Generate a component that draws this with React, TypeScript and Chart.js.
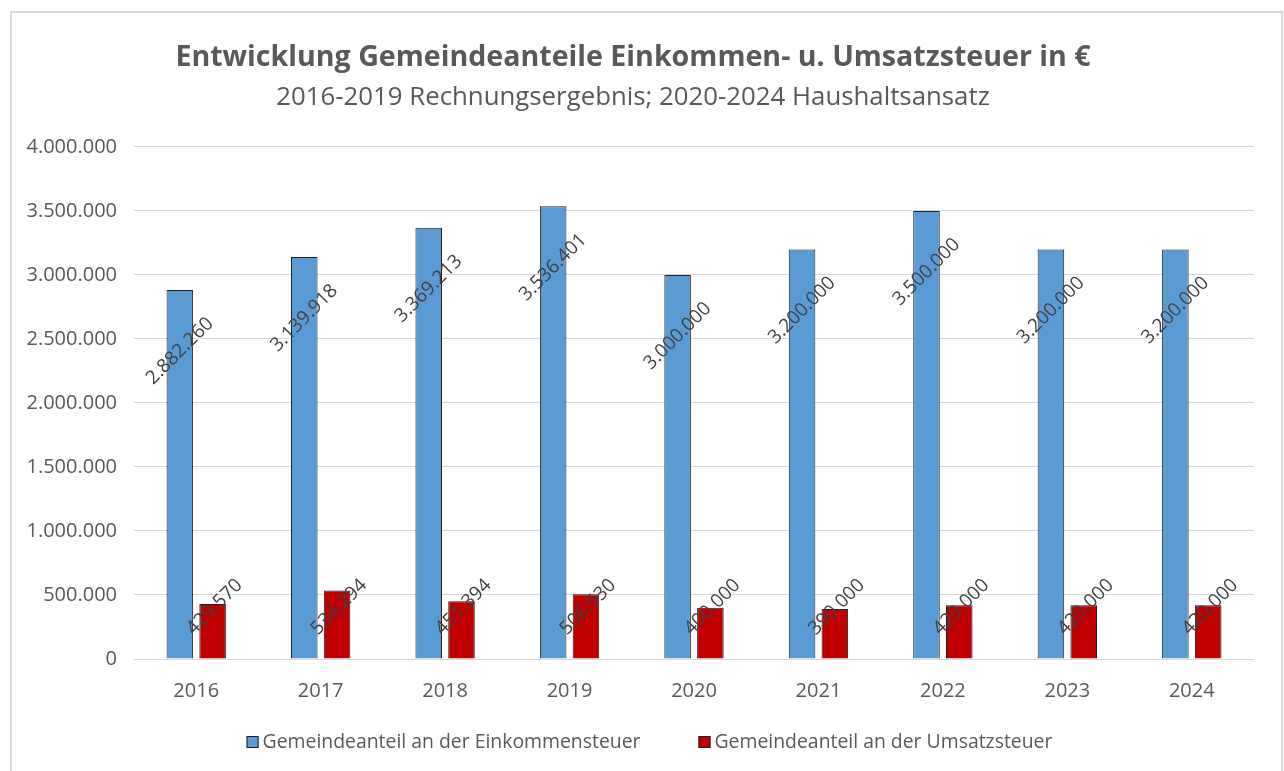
import React, { useEffect, useRef } from 'react';
import { Chart, registerables } from 'chart.js';

Chart.register(...registerables);

const categories = ['2016', '2017', '2018', '2019', '2020', '2021', '2022', '2023', '2024'];
const einkommensteuer = [2882260, 3139918, 3369213, 3536401, 3000000, 3200000, 3500000, 3200000, 3200000];
const umsatzsteuer = [429570, 534294, 451394, 506530, 400000, 390000, 420000, 420000, 420000];
const seriesLabels = ['Gemeindeanteil an der Einkommensteuer', 'Gemeindeanteil an der Umsatzsteuer'];
const seriesColors = ['#5b9bd5', '#c00000'];
const yMin = 0;
const yMax = 4000000;
const yStep = 500000;
const titleText = 'Entwicklung Gemeindeanteile Einkommen- u. Umsatzsteuer in €';
const subtitleText = '2016-2019 Rechnungsergebnis; 2020-2024 Haushaltsansatz';

const FONT = "'Open Sans', sans-serif";
const TEXT_COLOR = '#595959';

function fmt(n: number): string {
  return String(Math.round(n)).replace(/\B(?=(\d{3})+(?!\d))/g, '.');
}

const dataLabelPlugin = {
  id: 'rotatedDataLabels',
  afterDatasetsDraw(chart: any) {
    const ctx = chart.ctx;
    const base = chart.scales.y.getPixelForValue(0);
    chart.data.datasets.forEach((ds: any, di: number) => {
      const meta = chart.getDatasetMeta(di);
      meta.data.forEach((el: any, i: number) => {
        const v = ds.data[i] as number;
        const cx = el.x + (di === 1 ? 2 : 0);
        const cy = di === 0 ? el.y + 61 : base - 52;
        ctx.save();
        ctx.translate(cx, cy);
        ctx.rotate(-Math.PI / 4);
        ctx.font = `19px ${FONT}`;
        ctx.fillStyle = '#404040';
        ctx.textAlign = 'center';
        ctx.textBaseline = 'middle';
        ctx.fillText(fmt(v), 0, 0);
        ctx.restore();
      });
    });
  },
};

const customLegendPlugin = {
  id: 'customLegend',
  afterDraw(chart: any) {
    const ctx = chart.ctx;
    ctx.save();
    ctx.font = `19.4px ${FONT}`;
    const box = 12;
    const boxGap = 4;
    const itemGap = 58;
    const items = chart.data.datasets.map((ds: any) => ({
      label: ds.label,
      color: ds.backgroundColor,
      w: ctx.measureText(ds.label).width,
    }));
    let total = 0;
    items.forEach((it: any, idx: number) => {
      total += box + boxGap + it.w + (idx < items.length - 1 ? itemGap : 0);
    });
    let x = chart.width / 2 + 3 - total / 2;
    const y = chart.height - 29;
    items.forEach((it: any) => {
      ctx.fillStyle = it.color;
      ctx.fillRect(x, y - box / 2, box, box);
      ctx.strokeStyle = '#1f1f1f';
      ctx.lineWidth = 1;
      ctx.strokeRect(x + 0.5, y - box / 2 + 0.5, box - 1, box - 1);
      ctx.fillStyle = TEXT_COLOR;
      ctx.textAlign = 'left';
      ctx.textBaseline = 'middle';
      ctx.fillText(it.label, x + box + boxGap, y);
      x += box + boxGap + it.w + itemGap;
    });
    ctx.restore();
  },
};

export default function App() {
  const canvasRef = useRef<HTMLCanvasElement | null>(null);

  useEffect(() => {
    if (!canvasRef.current) return;
    const chart = new Chart(canvasRef.current, {
      type: 'bar',
      data: {
        labels: categories,
        datasets: [
          {
            label: seriesLabels[0],
            data: einkommensteuer,
            backgroundColor: seriesColors[0],
            borderColor: '#1f1f1f',
            borderWidth: 1,
            categoryPercentage: 0.527,
            barPercentage: 0.81,
          },
          {
            label: seriesLabels[1],
            data: umsatzsteuer,
            backgroundColor: seriesColors[1],
            borderColor: '#1f1f1f',
            borderWidth: 1,
            categoryPercentage: 0.527,
            barPercentage: 0.81,
          },
        ],
      },
      options: {
        responsive: false,
        animation: false,
        layout: { padding: { left: 0, right: 27, top: 0, bottom: 62 } },
        plugins: {
          legend: { display: false },
          tooltip: { enabled: false },
          title: {
            display: true,
            text: titleText,
            color: TEXT_COLOR,
            font: { family: FONT, size: 28.6, weight: 'bold', lineHeight: 1.2 },
            padding: { top: 27.5, bottom: 7.5 },
          },
          subtitle: {
            display: true,
            text: subtitleText,
            color: TEXT_COLOR,
            font: { family: FONT, size: 25.8, weight: 'normal', lineHeight: 1.2 },
            padding: { top: 0, bottom: 33.7 },
          },
        },
        scales: {
          x: {
            grid: { display: false },
            border: { display: false },
            ticks: { color: TEXT_COLOR, font: { family: FONT, size: 20 }, padding: 12 },
            afterFit: (s: any) => { s.height = 50; },
          },
          y: {
            min: yMin,
            max: yMax,
            grid: { color: '#d9d9d9', lineWidth: 1, drawTicks: false },
            border: { display: false },
            ticks: {
              stepSize: yStep,
              color: TEXT_COLOR,
              font: { family: FONT, size: 20 },
              padding: 17,
              callback: (v: any) => fmt(Number(v)),
            },
            afterFit: (s: any) => { s.width = 122; },
          },
        },
      },
      plugins: [dataLabelPlugin, customLegendPlugin],
    });
    return () => chart.destroy();
  }, []);

  return (
    <div
      style={{
        position: 'fixed',
        left: 10,
        top: 11,
        width: 1273,
        height: 775,
        border: '2px solid #d9d9d9',
        boxSizing: 'border-box',
        background: '#ffffff',
      }}
    >
      <canvas ref={canvasRef} width={1269} height={758} style={{ display: 'block' }} />
    </div>
  );
}
